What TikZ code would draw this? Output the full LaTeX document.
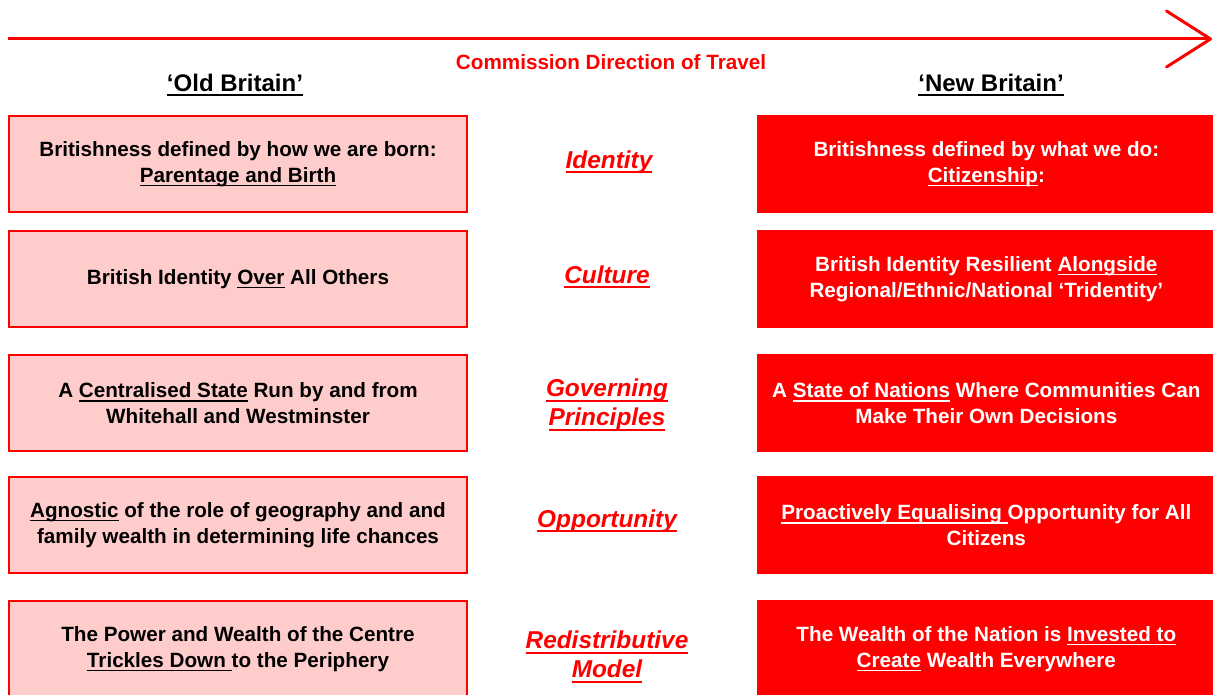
\documentclass[tikz,border=0pt]{standalone}
\usepackage{fontspec}
\setmainfont{Liberation Sans}
\usepackage{xcolor}
\usetikzlibrary{arrows.meta,positioning}
\definecolor{oldpink}{HTML}{FFCCCC}
\newcommand\ulin[1]{\setbox0=\hbox{#1}\rlap{\rule[-0.2em]{\wd0}{0.08em}}\box0\relax}

\begin{document}
\begin{tikzpicture}[x=0.75pt,y=-0.75pt,node distance=216.75pt,
  >={Straight Barb[length=33pt,width=42pt,round]},
  oldbox/.style={draw=red,fill=oldpink,line width=1pt,align=center,minimum width=343.5pt,minimum height=72pt,inner sep=0pt,font=\bfseries\fontsize{15.5}{19.5}\selectfont},
  newbox/.style={oldbox,fill=red,text=white},
  theme/.style={align=center,text=red,inner sep=0pt,font=\bfseries\itshape\fontsize{18.3}{21.75}\selectfont},
  hdr/.style={inner sep=0pt,font=\bfseries\fontsize{18}{22}\selectfont},
  ttl/.style={inner sep=0pt,text=red,font=\bfseries\fontsize{15.5}{19}\selectfont}]
\clip (0,0) rectangle (1213,695);
\coordinate (start) at (8,39);
\coordinate (tip) at (1212,39);
\draw[red,line width=2.25pt,->] (start) -- (tip);
\node[ttl] (dir) at (611,62) {Commission Direction of Travel};
\node[hdr] (oldhd) at (235,85) {\ulin{‘Old Britain’}};
\node[hdr] (newhd) at (991,85) {\ulin{‘New Britain’}};
% old britain
\node[oldbox] (old1) at (238,164) {Britishness defined by how we are born:\\\ulin{Parentage and Birth}};
\node[oldbox] (old2) at (238,279) {British Identity \ulin{Over} All Others};
\node[oldbox] (old3) at (238,403) {A \ulin{Centralised State} Run by and from\\Whitehall and Westminster};
\node[oldbox] (old4) at (238,525) {\ulin{Agnostic} of the role of geography and and\\family wealth in determining life chances};
\node[oldbox] (old5) at (238,649) {The Power and Wealth of the Centre\\\ulin{Trickles Down }to the Periphery};
% new britain
\node[newbox,right=of old1] (new1) {Britishness defined by what we do:\\\ulin{Citizenship}:};
\node[newbox,right=of old2] (new2) {British Identity Resilient \ulin{Alongside}\\Regional/Ethnic/National ‘Tridentity’};
\node[newbox,right=of old3] (new3) {A \ulin{State of Nations} Where Communities Can\\Make Their Own Decisions};
\node[newbox,right=of old4] (new4) {\ulin{Proactively Equalising }Opportunity for All\\Citizens};
\node[newbox,right=of old5] (new5) {The Wealth of the Nation is \ulin{Invested to}\\\ulin{Create} Wealth Everywhere};
% themes
\node[theme] (th1) at (609,162) {\ulin{Identity}};
\node[theme] (th2) at (607,277) {\ulin{Culture}};
\node[theme] (th3) at (607,405) {\ulin{Governing}\\\ulin{Principles}};
\node[theme] (th4) at (607,521) {\ulin{Opportunity}};
\node[theme] (th5) at (607,657) {\ulin{Redistributive}\\\ulin{Model}};
\end{tikzpicture}
\end{document}
